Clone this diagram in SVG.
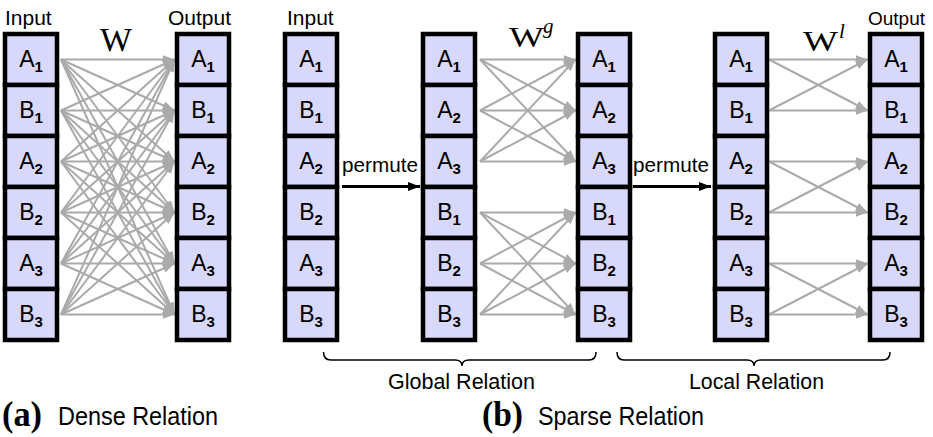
<svg xmlns="http://www.w3.org/2000/svg" width="933" height="437" viewBox="0 0 933 437">
<style>
.cell rect{fill:#d8d8fa;stroke:#000;stroke-width:4.5}
.cell text{font-family:"Liberation Sans",Arial,sans-serif;font-size:23px;text-anchor:middle;fill:#000}
.sub{font-size:15px;font-weight:bold}
.hdr{font-family:"Liberation Sans",Arial,sans-serif;font-size:21px;fill:#000}
.lbl{font-family:"Liberation Sans",Arial,sans-serif;fill:#000}
.w{font-family:"Liberation Serif","Times New Roman",serif;fill:#000}
.c line{stroke:#aaaaaa;stroke-width:2;marker-end:url(#ga)}
.p line{stroke:#000;stroke-width:3;marker-end:url(#ba)}
.brace{fill:none;stroke:#000;stroke-width:1.5}
</style>
<defs>
<marker id="ga" markerUnits="userSpaceOnUse" markerWidth="12" markerHeight="10" refX="12" refY="4.5" orient="auto"><path d="M0,0 L12,4.5 L0,9 z" fill="#aaaaaa"/></marker>
<marker id="ba" markerUnits="userSpaceOnUse" markerWidth="13" markerHeight="10" refX="12" refY="4.5" orient="auto"><path d="M0,0 L12,4.5 L0,9 z" fill="#000"/></marker>
</defs>
<rect width="933" height="437" fill="#fff"/>

<!-- headers -->
<text class="hdr" x="5" y="25">Input</text>
<text class="hdr" x="168" y="25">Output</text>
<text class="hdr" x="287" y="25">Input</text>
<text class="hdr" x="868" y="25" style="font-size:19px">Output</text>
<text class="w" x="100" y="51" font-size="33" textLength="32" lengthAdjust="spacingAndGlyphs">W</text>
<text class="w" x="509" y="47" font-size="30" textLength="35" lengthAdjust="spacingAndGlyphs">W</text>
<text class="w" x="543" y="33" font-size="21" font-style="italic">g</text>
<text class="w" x="803" y="51" font-size="30" textLength="35" lengthAdjust="spacingAndGlyphs">W</text>
<text class="w" x="839" y="38" font-size="21" font-style="italic">l</text>

<!-- connectors -->
<g id="connectors">
<g class="c" id="dense">
<line x1="61" y1="59.5" x2="174.5" y2="59.5"/><line x1="61" y1="59.5" x2="174.5" y2="110.5"/><line x1="61" y1="59.5" x2="174.5" y2="161.5"/><line x1="61" y1="59.5" x2="174.5" y2="212.5"/><line x1="61" y1="59.5" x2="174.5" y2="263.5"/><line x1="61" y1="59.5" x2="174.5" y2="314.5"/>
<line x1="61" y1="110.5" x2="174.5" y2="59.5"/><line x1="61" y1="110.5" x2="174.5" y2="110.5"/><line x1="61" y1="110.5" x2="174.5" y2="161.5"/><line x1="61" y1="110.5" x2="174.5" y2="212.5"/><line x1="61" y1="110.5" x2="174.5" y2="263.5"/><line x1="61" y1="110.5" x2="174.5" y2="314.5"/>
<line x1="61" y1="161.5" x2="174.5" y2="59.5"/><line x1="61" y1="161.5" x2="174.5" y2="110.5"/><line x1="61" y1="161.5" x2="174.5" y2="161.5"/><line x1="61" y1="161.5" x2="174.5" y2="212.5"/><line x1="61" y1="161.5" x2="174.5" y2="263.5"/><line x1="61" y1="161.5" x2="174.5" y2="314.5"/>
<line x1="61" y1="212.5" x2="174.5" y2="59.5"/><line x1="61" y1="212.5" x2="174.5" y2="110.5"/><line x1="61" y1="212.5" x2="174.5" y2="161.5"/><line x1="61" y1="212.5" x2="174.5" y2="212.5"/><line x1="61" y1="212.5" x2="174.5" y2="263.5"/><line x1="61" y1="212.5" x2="174.5" y2="314.5"/>
<line x1="61" y1="263.5" x2="174.5" y2="59.5"/><line x1="61" y1="263.5" x2="174.5" y2="110.5"/><line x1="61" y1="263.5" x2="174.5" y2="161.5"/><line x1="61" y1="263.5" x2="174.5" y2="212.5"/><line x1="61" y1="263.5" x2="174.5" y2="263.5"/><line x1="61" y1="263.5" x2="174.5" y2="314.5"/>
<line x1="61" y1="314.5" x2="174.5" y2="59.5"/><line x1="61" y1="314.5" x2="174.5" y2="110.5"/><line x1="61" y1="314.5" x2="174.5" y2="161.5"/><line x1="61" y1="314.5" x2="174.5" y2="212.5"/><line x1="61" y1="314.5" x2="174.5" y2="263.5"/><line x1="61" y1="314.5" x2="174.5" y2="314.5"/>
</g>
<g class="c" id="global">
<line x1="480" y1="59.5" x2="575.5" y2="59.5"/><line x1="480" y1="59.5" x2="575.5" y2="110.5"/><line x1="480" y1="59.5" x2="575.5" y2="161.5"/>
<line x1="480" y1="110.5" x2="575.5" y2="59.5"/><line x1="480" y1="110.5" x2="575.5" y2="110.5"/><line x1="480" y1="110.5" x2="575.5" y2="161.5"/>
<line x1="480" y1="161.5" x2="575.5" y2="59.5"/><line x1="480" y1="161.5" x2="575.5" y2="110.5"/><line x1="480" y1="161.5" x2="575.5" y2="161.5"/>
<line x1="480" y1="212.5" x2="575.5" y2="212.5"/><line x1="480" y1="212.5" x2="575.5" y2="263.5"/><line x1="480" y1="212.5" x2="575.5" y2="314.5"/>
<line x1="480" y1="263.5" x2="575.5" y2="212.5"/><line x1="480" y1="263.5" x2="575.5" y2="263.5"/><line x1="480" y1="263.5" x2="575.5" y2="314.5"/>
<line x1="480" y1="314.5" x2="575.5" y2="212.5"/><line x1="480" y1="314.5" x2="575.5" y2="263.5"/><line x1="480" y1="314.5" x2="575.5" y2="314.5"/>
</g>
<g class="c" id="local">
<line x1="769" y1="59.5" x2="867.5" y2="59.5"/><line x1="769" y1="59.5" x2="867.5" y2="110.5"/>
<line x1="769" y1="110.5" x2="867.5" y2="59.5"/><line x1="769" y1="110.5" x2="867.5" y2="110.5"/>
<line x1="769" y1="161.5" x2="867.5" y2="161.5"/><line x1="769" y1="161.5" x2="867.5" y2="212.5"/>
<line x1="769" y1="212.5" x2="867.5" y2="161.5"/><line x1="769" y1="212.5" x2="867.5" y2="212.5"/>
<line x1="769" y1="263.5" x2="867.5" y2="263.5"/><line x1="769" y1="263.5" x2="867.5" y2="314.5"/>
<line x1="769" y1="314.5" x2="867.5" y2="263.5"/><line x1="769" y1="314.5" x2="867.5" y2="314.5"/>
</g>
<g class="p" id="permutes">
<line x1="342" y1="186.5" x2="420" y2="186.5"/>
<line x1="633" y1="186.5" x2="711" y2="186.5"/>
</g>
</g>
<text class="lbl" x="342" y="172" font-size="20" textLength="76" lengthAdjust="spacingAndGlyphs">permute</text>
<text class="lbl" x="633" y="172" font-size="20" textLength="76" lengthAdjust="spacingAndGlyphs">permute</text>

<!-- column 1: dense input -->
<g id="d_in_A1" class="cell"><rect x="5" y="34" width="52" height="51"/><text x="31" y="67">A<tspan class="sub" dy="5">1</tspan></text></g>
<g id="d_in_B1" class="cell"><rect x="5" y="85" width="52" height="51"/><text x="31" y="118">B<tspan class="sub" dy="5">1</tspan></text></g>
<g id="d_in_A2" class="cell"><rect x="5" y="136" width="52" height="51"/><text x="31" y="169">A<tspan class="sub" dy="5">2</tspan></text></g>
<g id="d_in_B2" class="cell"><rect x="5" y="187" width="52" height="51"/><text x="31" y="220">B<tspan class="sub" dy="5">2</tspan></text></g>
<g id="d_in_A3" class="cell"><rect x="5" y="238" width="52" height="51"/><text x="31" y="271">A<tspan class="sub" dy="5">3</tspan></text></g>
<g id="d_in_B3" class="cell"><rect x="5" y="289" width="52" height="51"/><text x="31" y="322">B<tspan class="sub" dy="5">3</tspan></text></g>

<!-- column 2: dense output -->
<g id="d_out_A1" class="cell"><rect x="177" y="34" width="52" height="51"/><text x="203" y="67">A<tspan class="sub" dy="5">1</tspan></text></g>
<g id="d_out_B1" class="cell"><rect x="177" y="85" width="52" height="51"/><text x="203" y="118">B<tspan class="sub" dy="5">1</tspan></text></g>
<g id="d_out_A2" class="cell"><rect x="177" y="136" width="52" height="51"/><text x="203" y="169">A<tspan class="sub" dy="5">2</tspan></text></g>
<g id="d_out_B2" class="cell"><rect x="177" y="187" width="52" height="51"/><text x="203" y="220">B<tspan class="sub" dy="5">2</tspan></text></g>
<g id="d_out_A3" class="cell"><rect x="177" y="238" width="52" height="51"/><text x="203" y="271">A<tspan class="sub" dy="5">3</tspan></text></g>
<g id="d_out_B3" class="cell"><rect x="177" y="289" width="52" height="51"/><text x="203" y="322">B<tspan class="sub" dy="5">3</tspan></text></g>

<!-- column 3: sparse input -->
<g id="s_in_A1" class="cell"><rect x="285" y="34" width="52" height="51"/><text x="311" y="67">A<tspan class="sub" dy="5">1</tspan></text></g>
<g id="s_in_B1" class="cell"><rect x="285" y="85" width="52" height="51"/><text x="311" y="118">B<tspan class="sub" dy="5">1</tspan></text></g>
<g id="s_in_A2" class="cell"><rect x="285" y="136" width="52" height="51"/><text x="311" y="169">A<tspan class="sub" dy="5">2</tspan></text></g>
<g id="s_in_B2" class="cell"><rect x="285" y="187" width="52" height="51"/><text x="311" y="220">B<tspan class="sub" dy="5">2</tspan></text></g>
<g id="s_in_A3" class="cell"><rect x="285" y="238" width="52" height="51"/><text x="311" y="271">A<tspan class="sub" dy="5">3</tspan></text></g>
<g id="s_in_B3" class="cell"><rect x="285" y="289" width="52" height="51"/><text x="311" y="322">B<tspan class="sub" dy="5">3</tspan></text></g>

<!-- column 4: permuted -->
<g id="g_in_A1" class="cell"><rect x="423" y="34" width="52" height="51"/><text x="449" y="67">A<tspan class="sub" dy="5">1</tspan></text></g>
<g id="g_in_A2" class="cell"><rect x="423" y="85" width="52" height="51"/><text x="449" y="118">A<tspan class="sub" dy="5">2</tspan></text></g>
<g id="g_in_A3" class="cell"><rect x="423" y="136" width="52" height="51"/><text x="449" y="169">A<tspan class="sub" dy="5">3</tspan></text></g>
<g id="g_in_B1" class="cell"><rect x="423" y="187" width="52" height="51"/><text x="449" y="220">B<tspan class="sub" dy="5">1</tspan></text></g>
<g id="g_in_B2" class="cell"><rect x="423" y="238" width="52" height="51"/><text x="449" y="271">B<tspan class="sub" dy="5">2</tspan></text></g>
<g id="g_in_B3" class="cell"><rect x="423" y="289" width="52" height="51"/><text x="449" y="322">B<tspan class="sub" dy="5">3</tspan></text></g>

<!-- column 5: global output -->
<g id="g_out_A1" class="cell"><rect x="578" y="34" width="52" height="51"/><text x="604" y="67">A<tspan class="sub" dy="5">1</tspan></text></g>
<g id="g_out_A2" class="cell"><rect x="578" y="85" width="52" height="51"/><text x="604" y="118">A<tspan class="sub" dy="5">2</tspan></text></g>
<g id="g_out_A3" class="cell"><rect x="578" y="136" width="52" height="51"/><text x="604" y="169">A<tspan class="sub" dy="5">3</tspan></text></g>
<g id="g_out_B1" class="cell"><rect x="578" y="187" width="52" height="51"/><text x="604" y="220">B<tspan class="sub" dy="5">1</tspan></text></g>
<g id="g_out_B2" class="cell"><rect x="578" y="238" width="52" height="51"/><text x="604" y="271">B<tspan class="sub" dy="5">2</tspan></text></g>
<g id="g_out_B3" class="cell"><rect x="578" y="289" width="52" height="51"/><text x="604" y="322">B<tspan class="sub" dy="5">3</tspan></text></g>

<!-- column 6: local input -->
<g id="l_in_A1" class="cell"><rect x="715" y="34" width="52" height="51"/><text x="741" y="67">A<tspan class="sub" dy="5">1</tspan></text></g>
<g id="l_in_B1" class="cell"><rect x="715" y="85" width="52" height="51"/><text x="741" y="118">B<tspan class="sub" dy="5">1</tspan></text></g>
<g id="l_in_A2" class="cell"><rect x="715" y="136" width="52" height="51"/><text x="741" y="169">A<tspan class="sub" dy="5">2</tspan></text></g>
<g id="l_in_B2" class="cell"><rect x="715" y="187" width="52" height="51"/><text x="741" y="220">B<tspan class="sub" dy="5">2</tspan></text></g>
<g id="l_in_A3" class="cell"><rect x="715" y="238" width="52" height="51"/><text x="741" y="271">A<tspan class="sub" dy="5">3</tspan></text></g>
<g id="l_in_B3" class="cell"><rect x="715" y="289" width="52" height="51"/><text x="741" y="322">B<tspan class="sub" dy="5">3</tspan></text></g>

<!-- column 7: sparse output -->
<g id="s_out_A1" class="cell"><rect x="870" y="34" width="52" height="51"/><text x="896" y="67">A<tspan class="sub" dy="5">1</tspan></text></g>
<g id="s_out_B1" class="cell"><rect x="870" y="85" width="52" height="51"/><text x="896" y="118">B<tspan class="sub" dy="5">1</tspan></text></g>
<g id="s_out_A2" class="cell"><rect x="870" y="136" width="52" height="51"/><text x="896" y="169">A<tspan class="sub" dy="5">2</tspan></text></g>
<g id="s_out_B2" class="cell"><rect x="870" y="187" width="52" height="51"/><text x="896" y="220">B<tspan class="sub" dy="5">2</tspan></text></g>
<g id="s_out_A3" class="cell"><rect x="870" y="238" width="52" height="51"/><text x="896" y="271">A<tspan class="sub" dy="5">3</tspan></text></g>
<g id="s_out_B3" class="cell"><rect x="870" y="289" width="52" height="51"/><text x="896" y="322">B<tspan class="sub" dy="5">3</tspan></text></g>

<!-- braces -->
<path class="brace" d="M323.5,352 Q323.5,360 331,360 L455,360 Q462,360 462,366 Q462,360 469,360 L589,360 Q596,360 596,352"/>
<path class="brace" d="M617,352 Q617,360 624,360 L747,360 Q754,360 754,366 Q754,360 761,360 L883,360 Q890,360 890,352"/>
<text class="lbl" x="388" y="389" font-size="22" textLength="147" lengthAdjust="spacingAndGlyphs">Global Relation</text>
<text class="lbl" x="689" y="389" font-size="22" textLength="135" lengthAdjust="spacingAndGlyphs">Local Relation</text>

<!-- captions -->
<text class="w" x="2" y="426" font-size="35" font-weight="bold" textLength="40" lengthAdjust="spacingAndGlyphs">(a)</text>
<text class="lbl" x="58" y="425" font-size="26" textLength="160" lengthAdjust="spacingAndGlyphs">Dense Relation</text>
<text class="w" x="482" y="426" font-size="35" font-weight="bold" textLength="41" lengthAdjust="spacingAndGlyphs">(b)</text>
<text class="lbl" x="538" y="425" font-size="26" textLength="166" lengthAdjust="spacingAndGlyphs">Sparse Relation</text>
</svg>
